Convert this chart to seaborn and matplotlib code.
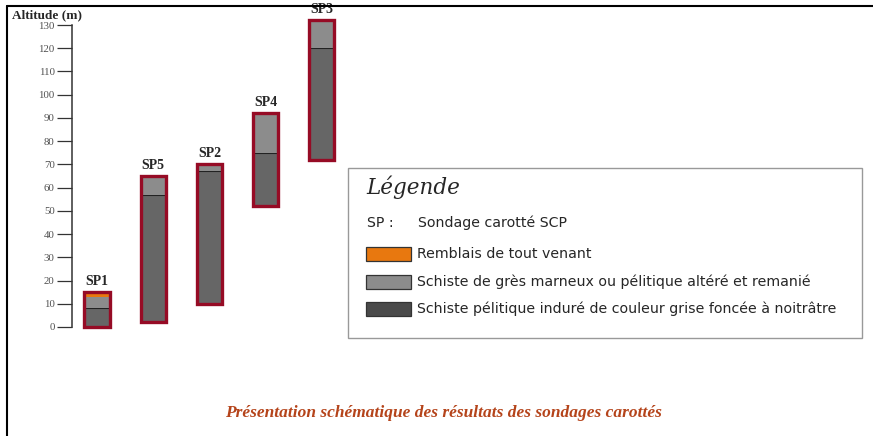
import numpy as np
import pandas as pd
import matplotlib.pyplot as plt
from matplotlib.patches import Rectangle
from matplotlib.lines import Line2D
import seaborn as sns

# sondages (ordre d'affichage) et altitudes (m)
cores = ["SP1", "SP5", "SP2", "SP4", "SP3"]
base = [0, 2, 10, 52, 72]            # base du sondage
hard_top = [8, 57, 67, 75, 120]      # toit du schiste induré
altered_top = [13, 65, 70, 92, 132]  # toit du schiste altéré
fill_top = [15, 65, 70, 92, 132]     # toit des remblais (= tête du sondage)

layer_names = ["Remblais de tout venant",
               "Schiste de grès marneux ou pélitique altéré et remanié",
               "Schiste pélitique induré de couleur grise foncée à noitrâtre"]
layer_colors = ["#E8780F", "#8C8C8C", "#666666"]
legend_colors = ["#E8780F", "#8C8C8C", "#4A4A4A"]
border_color = "#960B25"

yticks = list(range(0, 131, 10))

df = pd.DataFrame({"core": cores, "base": base, "hard": hard_top,
                   "alt": altered_top, "top": fill_top})

sns.set_style("white")
plt.rcParams["font.family"] = ["Liberation Serif", "DejaVu Serif"]

fig = plt.figure(figsize=(8.73, 4.36), dpi=100)
ax = fig.add_axes([72 / 873, 0.2394, 0.8655, 0.7298])

w = 0.45
common = dict(x="core", order=cores, errorbar=None, width=w, saturation=1, ax=ax)

# couches : induré, altéré, remblais
sns.barplot(data=df.assign(h=df.hard - df.base), y="h", bottom=df.base,
            color=layer_colors[2], edgecolor="#222222", linewidth=0.8, **common)
sns.barplot(data=df.assign(h=df.alt - df.hard), y="h", bottom=df.hard,
            color=layer_colors[1], linewidth=0, **common)
sns.barplot(data=df.assign(h=df.top - df.alt), y="h", bottom=df.alt,
            color=layer_colors[0], linewidth=0, **common)
# contour du sondage
sns.barplot(data=df.assign(h=df.top - df.base), y="h", bottom=df.base,
            color=border_color, fill=False, linewidth=2.4, **common)

for i, c in enumerate(cores):
    ax.annotate(c, (i, fill_top[i]), xytext=(0, 3), textcoords="offset points",
                ha="center", va="bottom", fontsize=10, fontweight="bold")

ax.set_xlim(-0.445, 13)
ax.set_ylim(-2, 135)
ax.set_yticks(yticks)
ax.tick_params(axis="y", direction="out", length=10.5, width=0.9, pad=2,
               labelsize=7.8, labelcolor="#505050", color="#333333", left=True)
ax.set_xlabel("")
ax.set_ylabel("")
ax.set_xticks([])
for s in ["top", "right", "bottom"]:
    ax.spines[s].set_visible(False)
ax.spines["left"].set_bounds(0, 130)
ax.spines["left"].set_color("#333333")
ax.spines["left"].set_linewidth(1.1)

fig.text(12 / 873, 1 - 15 / 436, "Altitude (m)", fontsize=9.5, fontweight="bold",
         ha="left", va="center")

# cadre de la figure
fig.add_artist(Line2D([7 / 873, 1], [1 - 6 / 436] * 2, color="black", lw=1.5))
fig.add_artist(Line2D([7 / 873] * 2, [0, 1 - 6 / 436], color="black", lw=1.5))

# légende
def fx(px):
    return px / 873

def fy(py):
    return 1 - py / 436

fig.add_artist(Rectangle((fx(348), fy(338)), fx(862) - fx(348), fy(168) - fy(338),
                         transform=fig.transFigure, facecolor="white",
                         edgecolor="#999999", lw=1.0))
fig.text(fx(366), fy(187), "Légende", fontsize=15.5, style="italic",
         family=["DejaVu Serif"], ha="left", va="center")
sans = ["DejaVu Sans"]
fs = 10.2
fig.text(fx(367), fy(223), "SP :", fontsize=fs, family=sans, ha="left", va="center")
fig.text(fx(418), fy(223), "Sondage carotté SCP", fontsize=fs, family=sans,
         ha="left", va="center")
for k, (name, col) in enumerate(zip(layer_names, legend_colors)):
    yc = [254, 282, 309][k]
    fig.add_artist(Rectangle((fx(366), fy(yc + 7)), fx(411) - fx(366), fy(yc - 7) - fy(yc + 7),
                             transform=fig.transFigure, facecolor=col,
                             edgecolor="#333333", lw=0.9))
    fig.text(fx(417), fy(yc), name, fontsize=fs, family=sans, ha="left", va="center")

fig.text(fx(443), fy(413), "Présentation schématique des résultats des sondages carottés",
         fontsize=12.5, style="italic", fontweight="bold", color="#B5441B",
         ha="center", va="center")

fig.savefig("out.png", dpi=100)
